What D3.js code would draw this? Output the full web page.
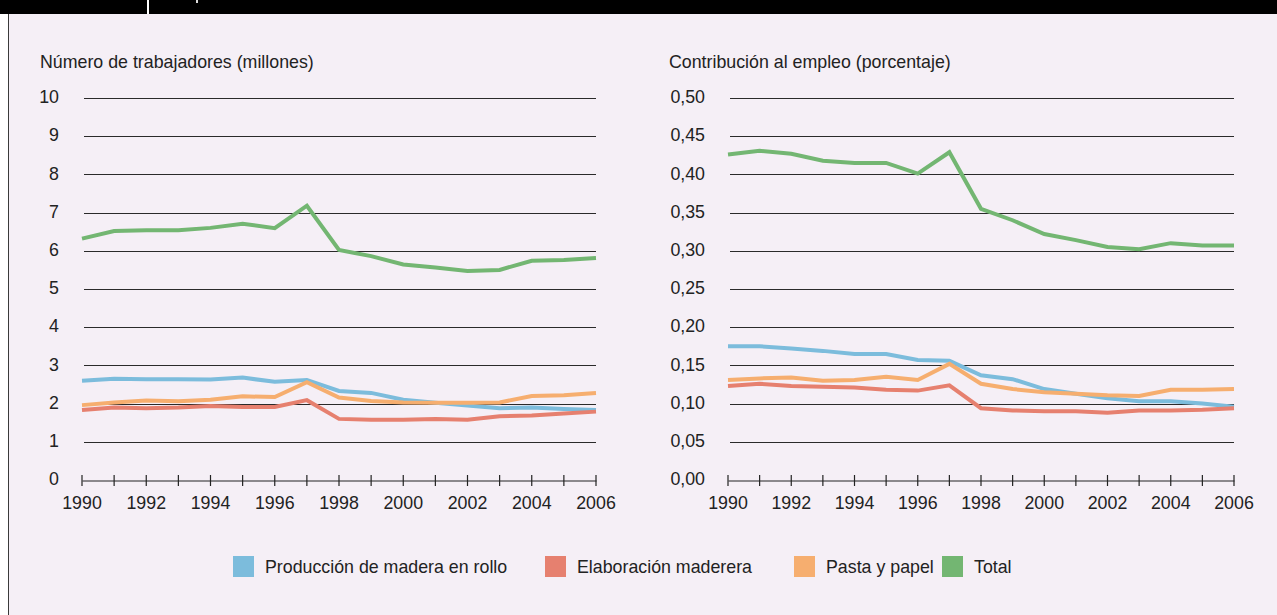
<!DOCTYPE html>
<html>
<head>
<meta charset="utf-8">
<script src="https://cdn.jsdelivr.net/npm/d3@7"></script>
<style>
  html, body { margin: 0; padding: 0; background: #fff; }
  svg text { font-family: "Liberation Sans", Arial, Helvetica, sans-serif; fill: #222; }
</style>
</head>
<body>
<svg id="chart" width="1277" height="615"></svg>
<script>
// years on the x axis
var years = d3.range(1990, 2007);

// left panel: number of workers (millions)
var workersRoundwood = [2.60, 2.65, 2.64, 2.64, 2.63, 2.68, 2.57, 2.62, 2.33, 2.28, 2.10, 2.02, 1.95, 1.88, 1.90, 1.86, 1.83];
var workersProcessing = [1.83, 1.90, 1.88, 1.90, 1.94, 1.91, 1.91, 2.09, 1.60, 1.58, 1.58, 1.60, 1.58, 1.67, 1.69, 1.74, 1.79];
var workersPulp = [1.96, 2.03, 2.08, 2.06, 2.10, 2.19, 2.17, 2.56, 2.16, 2.07, 2.03, 2.02, 2.02, 2.03, 2.20, 2.22, 2.28];
var workersTotal = [6.32, 6.52, 6.54, 6.54, 6.60, 6.71, 6.59, 7.18, 6.02, 5.86, 5.64, 5.56, 5.47, 5.50, 5.74, 5.76, 5.81];

// right panel: contribution to employment (percent)
var shareRoundwood = [0.175, 0.175, 0.172, 0.169, 0.165, 0.165, 0.157, 0.156, 0.137, 0.132, 0.119, 0.113, 0.107, 0.103, 0.103, 0.100, 0.096];
var shareProcessing = [0.123, 0.126, 0.123, 0.122, 0.121, 0.118, 0.117, 0.124, 0.094, 0.091, 0.090, 0.090, 0.088, 0.091, 0.091, 0.092, 0.094];
var sharePulp = [0.131, 0.133, 0.134, 0.130, 0.131, 0.135, 0.131, 0.152, 0.126, 0.119, 0.115, 0.113, 0.111, 0.110, 0.118, 0.118, 0.119];
var shareTotal = [0.426, 0.431, 0.427, 0.418, 0.415, 0.415, 0.401, 0.429, 0.355, 0.340, 0.322, 0.314, 0.305, 0.302, 0.310, 0.307, 0.307];

var seriesNames = ["Producción de madera en rollo", "Elaboración maderera", "Pasta y papel", "Total"];
var seriesColors = ["#7cbcdc", "#e6806f", "#f6ae6f", "#73b672"];

var leftTicks = d3.range(0, 11);
var rightTicks = d3.range(0, 0.501, 0.05);
var xLabelYears = d3.range(1990, 2007, 2);

var svg = d3.select("#chart");

// frame: black strip on top, lavender panel, dark rule on the left
svg.append("rect").attr("x", 0).attr("y", 0).attr("width", 1277).attr("height", 615).attr("fill", "#ffffff");
svg.append("rect").attr("x", 8).attr("y", 13).attr("width", 1269).attr("height", 602).attr("fill", "#f5eff6");
svg.append("rect").attr("x", 0).attr("y", 0).attr("width", 1277).attr("height", 14).attr("fill", "#000");
svg.append("rect").attr("x", 147).attr("y", 0).attr("width", 2).attr("height", 14).attr("fill", "#fff");
svg.append("rect").attr("x", 196).attr("y", 0).attr("width", 2).attr("height", 3).attr("fill", "#ddd");
svg.append("line").attr("x1", 8.5).attr("x2", 8.5).attr("y1", 14).attr("y2", 615)
  .attr("stroke", "#3a3a3a").attr("stroke-width", 1);

var commaFmt = d3.formatLocale({decimal: ",", thousands: ".", grouping: [3], currency: ["", "€"]}).format(".2f");

function panel(opts) {
  var x = d3.scaleLinear().domain([1990, 2006]).range([opts.x0, opts.x1]);
  var y = d3.scaleLinear().domain([0, opts.max]).range([480, 98]);
  var g = svg.append("g");

  // title
  g.append("text")
    .attr("x", opts.titleX).attr("y", 68)
    .style("font-size", "17.8px")
    .text(opts.title);

  // horizontal grid lines (above zero)
  g.selectAll(".grid")
    .data(opts.ticks.filter(function(d) { return d > 0; }))
    .enter().append("line")
    .attr("x1", opts.x0 + 2).attr("x2", opts.x1)
    .attr("y1", function(d) { return Math.round(y(d)) + 0.5; })
    .attr("y2", function(d) { return Math.round(y(d)) + 0.5; })
    .attr("stroke", "#2a2a2a").attr("stroke-width", 1.2);

  // y tick labels
  g.selectAll(".ylab")
    .data(opts.ticks)
    .enter().append("text")
    .attr("x", opts.labelX)
    .attr("y", function(d) { return y(d) - 1; })
    .attr("dy", "0.35em")
    .attr("text-anchor", "end")
    .style("font-size", "17.8px")
    .text(opts.fmt);

  // x axis with ticks on every year
  var xAxis = d3.axisBottom(x)
    .tickValues(years)
    .tickSize(0)
    .tickFormat("");
  var ax = g.append("g").attr("transform", "translate(0," + (Math.round(y(0)) + 0.5) + ")").call(xAxis);
  ax.select(".domain").attr("stroke", "#222").attr("stroke-width", 1.2);
  g.selectAll(".xt")
    .data(years)
    .enter().append("line")
    .attr("x1", function(d) { return x(d); })
    .attr("x2", function(d) { return x(d); })
    .attr("y1", y(0) - 5).attr("y2", y(0) + 6)
    .attr("stroke", "#222").attr("stroke-width", 1.2);
  g.selectAll(".xlab")
    .data(xLabelYears)
    .enter().append("text")
    .attr("x", function(d) { return x(d); })
    .attr("y", 509)
    .attr("text-anchor", "middle")
    .style("font-size", "17.8px")
    .text(function(d) { return d; });

  // the four lines
  var line = d3.line()
    .x(function(d, i) { return x(years[i]); })
    .y(function(d) { return y(d); });
  g.selectAll(".series")
    .data(opts.series)
    .enter().append("path")
    .attr("d", function(d) { return line(d); })
    .attr("fill", "none")
    .attr("stroke", function(d, i) { return seriesColors[i]; })
    .attr("stroke-width", 4)
    .attr("stroke-linejoin", "miter");
}

panel({
  x0: 82, x1: 596, max: 10, titleX: 40, labelX: 59,
  title: "Número de trabajadores (millones)",
  ticks: leftTicks,
  fmt: function(d) { return d; },
  series: [workersRoundwood, workersProcessing, workersPulp, workersTotal]
});

panel({
  x0: 728, x1: 1234, max: 0.5, titleX: 669, labelX: 705,
  title: "Contribución al empleo (porcentaje)",
  ticks: rightTicks,
  fmt: function(d) { return commaFmt(d); },
  series: [shareRoundwood, shareProcessing, sharePulp, shareTotal]
});

// legend
var legendX = [233, 545, 794, 942];
var legend = svg.append("g");
var items = legend.selectAll(".item")
  .data(seriesNames)
  .enter().append("g")
  .attr("transform", function(d, i) { return "translate(" + legendX[i] + ",556)"; });
items.append("rect")
  .attr("width", 21).attr("height", 21)
  .attr("fill", function(d, i) { return seriesColors[i]; });
items.append("text")
  .attr("x", 32).attr("y", 11)
  .attr("dy", "0.35em")
  .style("font-size", "17.8px")
  .text(function(d) { return d; });
</script>
</body>
</html>
